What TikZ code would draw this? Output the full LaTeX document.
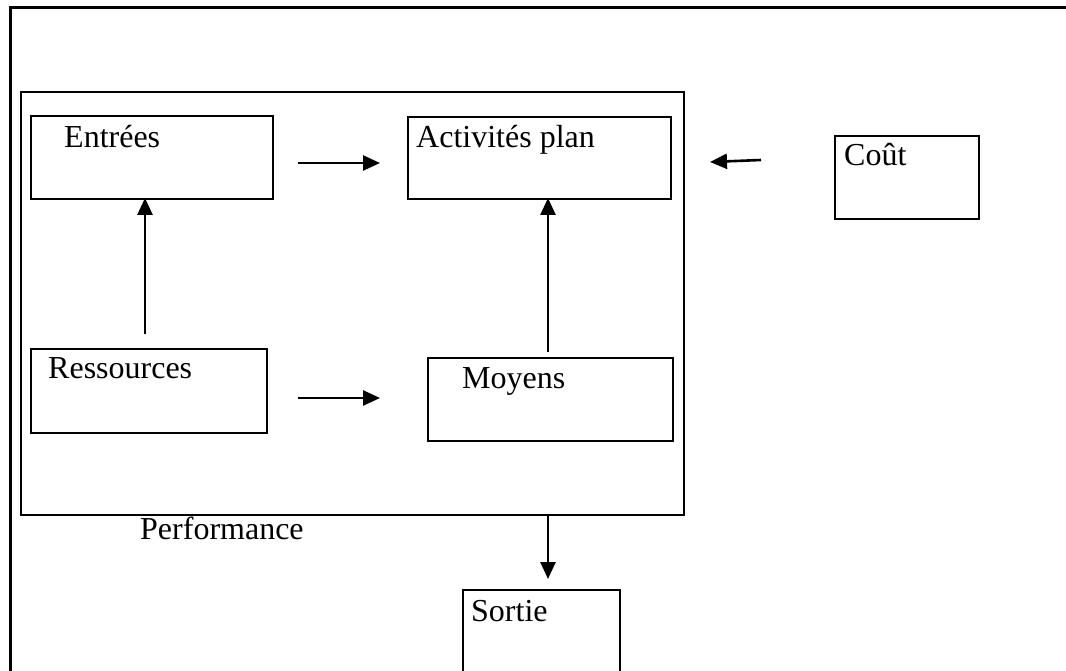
\documentclass[tikz,border=0pt]{standalone}
\usepackage{fontspec}
\setmainfont{Liberation Serif}
\usetikzlibrary{arrows.meta}
\begin{document}
\begin{tikzpicture}[x=1pt,y=-1pt,
  box/.style={draw, line width=2.2pt, rectangle, anchor=north west, inner sep=0pt},
  txt/.style={anchor=base west, inner sep=0pt, font=\fontsize{32}{38}\selectfont},
  flow/.style={line width=2.6pt, -{Triangle[length=17pt,width=15pt]}}]
\useasboundingbox (0,0) rectangle (1066,671);
\clip (0,0) rectangle (1066,671);
% outer frame (runs past the page on the right and bottom)
\draw[line width=3pt] (10,700) -- (10,8) -- (1090,8);
% performance frame
\node[box, minimum width=663pt, minimum height=423pt] (perf) at (20,91) {};
% boxes
\node[box, minimum width=242pt, minimum height=83pt] (entrees) at (30,115) {};
\node[box, minimum width=263pt, minimum height=82pt] (activ) at (407,116) {};
\node[box, minimum width=144pt, minimum height=83pt] (cout) at (834,135) {};
\node[box, minimum width=236pt, minimum height=84pt] (ress) at (30,348) {};
\node[box, minimum width=245pt, minimum height=83pt] (moy) at (427,357) {};
\node[box, minimum width=157pt, minimum height=100pt] (sortie) at (462,589) {};
% labels
\node[txt] (tEntrees) at (64,148) {Entrées};
\node[txt] (tActiv) at (416,148) {Activités plan};
\node[txt] (tCout) at (844,166) {Coût};
\node[txt] (tRess) at (48,378) {Ressources};
\node[txt] (tMoy) at (462,388) {Moyens};
\node[txt] (tPerf) at (140,539) {Performance};
\node[txt] (tSortie) at (471,621) {Sortie};
% arrow end points
\coordinate (a1s) at (298,163); \coordinate (a1e) at (380,163);
\coordinate (a2s) at (298,398); \coordinate (a2e) at (380,398);
\coordinate (a3s) at (145,334); \coordinate (a3e) at (145,198);
\coordinate (a4s) at (548,352); \coordinate (a4e) at (548,198);
\coordinate (a5s) at (761,160); \coordinate (a5e) at (710,162);
\coordinate (a6s) at (548,514); \coordinate (a6e) at (548,579);
% arrows
\draw[flow] (a1s) -- (a1e);
\draw[flow] (a2s) -- (a2e);
\draw[flow] (a3s) -- (a3e);
\draw[flow] (a4s) -- (a4e);
\draw[flow] (a5s) -- (a5e);
\draw[flow] (a6s) -- (a6e);
\end{tikzpicture}
\end{document}
